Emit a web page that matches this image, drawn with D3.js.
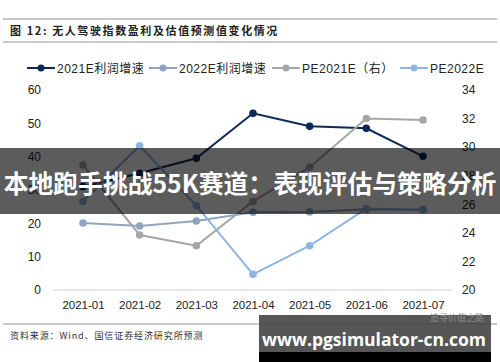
<!DOCTYPE html>
<html>
<head>
<meta charset="utf-8">
<script src="https://cdn.jsdelivr.net/npm/d3@7/dist/d3.min.js"></script>
<style>
  body { margin: 0; background: #fff; }
  svg text { font-family: "Liberation Sans", Arial, "Noto Sans CJK SC", sans-serif; }
</style>
</head>
<body>
<svg id="chart" width="500" height="362"></svg>
<script>
// data
const months = ['2021-01', '2021-02', '2021-03', '2021-04', '2021-05', '2021-06', '2021-07'];
const growth2021 = [31, 35, 39.5, 53, 49.1, 48.5, 40.1];
const growth2022 = [20.1, 19.2, 20.7, 23.3, 23.4, 24.2, 24.1];
const pe2021 = [28.75, 23.85, 23.1, 26.2, 28.6, 32.0, 31.9];
const pe2022 = [26.2, 30.1, 25.9, 21.1, 23.1, 25.7, 25.6];
const leftTicks = [0, 10, 20, 30, 40, 50, 60];
const rightTicks = [20, 22, 24, 26, 28, 30, 32, 34];

const series = [
  { name: '2021E利润增速', values: growth2021, axis: 'left', color: '#0c2a57' },
  { name: '2022E利润增速', values: growth2022, axis: 'left', color: '#8ea5bd' },
  { name: 'PE2021E（右）', values: pe2021, axis: 'right', color: '#a6a6a6' },
  { name: 'PE2022E', values: pe2022, axis: 'right', color: '#8db4e2' }
];

const svg = d3.select('#chart');

const x = d3.scalePoint().domain(months).range([83, 423]);
const yL = d3.scaleLinear().domain([0, 60]).range([290, 90]);
const yR = d3.scaleLinear().domain([20, 34]).range([290, 90]);

// title block
svg.append('line').attr('x1', 3).attr('x2', 497).attr('y1', 19).attr('y2', 19)
  .attr('stroke', '#777').attr('stroke-width', 0.8);
svg.append('line').attr('x1', 3).attr('x2', 497).attr('y1', 42).attr('y2', 42)
  .attr('stroke', '#777').attr('stroke-width', 0.8);
svg.append('text').attr('x', 10).attr('y', 35)
  .attr('font-size', 11).attr('font-weight', 'bold').attr('fill', '#222')
  .attr('letter-spacing', 1.6)
  .style('font-family', '"Noto Sans CJK SC", sans-serif')
  .text('图 12: 无人驾驶指数盈利及估值预测值变化情况');

// x axis
const xAxis = svg.append('g').attr('transform', 'translate(0,290)')
  .call(d3.axisBottom(x).tickSize(0).tickPadding(11));
xAxis.select('.domain').attr('d', 'M53,0H452').attr('stroke', '#d0d0d0');
xAxis.selectAll('text').attr('font-size', 11.5).attr('fill', '#222')
  .style('font-family', '"Liberation Sans", Arial, sans-serif');

// left axis
const gl = svg.append('g').attr('transform', 'translate(41,0)')
  .call(d3.axisLeft(yL).tickValues(leftTicks).tickSize(0).tickPadding(0));
gl.select('.domain').remove();
gl.selectAll('text').attr('font-size', 12).attr('fill', '#222');

// right axis
const gr = svg.append('g').attr('transform', 'translate(462,0)')
  .call(d3.axisRight(yR).tickValues(rightTicks).tickSize(0).tickPadding(0));
gr.select('.domain').remove();
gr.selectAll('text').attr('font-size', 12).attr('fill', '#222');

// lines and markers
series.forEach(s => {
  const y = s.axis === 'left' ? yL : yR;
  const line = d3.line().x((d, i) => x(months[i])).y(d => y(d));
  svg.append('path').datum(s.values).attr('d', line)
    .attr('fill', 'none').attr('stroke', s.color).attr('stroke-width', 2);
  svg.append('g').selectAll('circle').data(s.values).join('circle')
    .attr('cx', (d, i) => x(months[i])).attr('cy', d => y(d))
    .attr('r', 3.8).attr('fill', s.color);
});

// legend
const legendX = [27, 149, 272, 400];
const legend = svg.append('g').selectAll('g').data(series).join('g')
  .attr('transform', (d, i) => `translate(${legendX[i]},68)`);
legend.append('line').attr('x1', 0).attr('x2', 28).attr('y1', 0).attr('y2', 0)
  .attr('stroke', d => d.color).attr('stroke-width', 2);
legend.append('circle').attr('cx', 14).attr('cy', 0).attr('r', 3.5).attr('fill', d => d.color);
legend.append('text').attr('x', 30).attr('y', 4.5).attr('font-size', 12).attr('fill', '#222')
  .attr('letter-spacing', 0.5)
  .text(d => d.name);

// source
svg.append('line').attr('x1', 3).attr('x2', 497).attr('y1', 324).attr('y2', 324)
  .attr('stroke', '#777').attr('stroke-width', 0.8);
svg.append('text').attr('x', 10).attr('y', 339).attr('font-size', 9).attr('fill', '#333')
  .attr('letter-spacing', 0.9)
  .style('font-family', '"Noto Sans CJK SC", sans-serif')
  .text('资料来源：Wind、国信证券经济研究所预测');

// overlay banner
svg.append('rect').attr('x', 0).attr('y', 148).attr('width', 500).attr('height', 66)
  .attr('fill', '#000').attr('opacity', 0.64);
svg.append('text').attr('x', 250).attr('y', 193).attr('text-anchor', 'middle')
  .attr('font-size', 24.8).attr('font-weight', 'bold').attr('fill', '#fff')
  .style('font-family', '"Noto Sans CJK SC", sans-serif')
  .text('本地跑手挑战55K赛道：表现评估与策略分析');

// watermark box
svg.append('rect').attr('x', 259).attr('y', 315).attr('width', 232).attr('height', 37)
  .attr('fill', '#444').attr('opacity', 0.9);
svg.append('rect').attr('x', 259).attr('y', 352).attr('width', 232).attr('height', 10).attr('fill', '#000');
svg.append('text').attr('x', 484).attr('y', 321).attr('text-anchor', 'end')
  .attr('font-size', 9).attr('fill', '#888')
  .style('font-family', '"Noto Sans CJK SC", sans-serif')
  .text('追寻价值之路');
svg.append('text').attr('x', 374).attr('y', 346).attr('text-anchor', 'middle')
  .attr('font-size', 17.5).attr('font-weight', 'bold').attr('fill', '#fff')
  .style('font-family', '"Open Sans", "DejaVu Sans", sans-serif')
  .text('www.pgsimulator-cn.com');
</script>
</body>
</html>
